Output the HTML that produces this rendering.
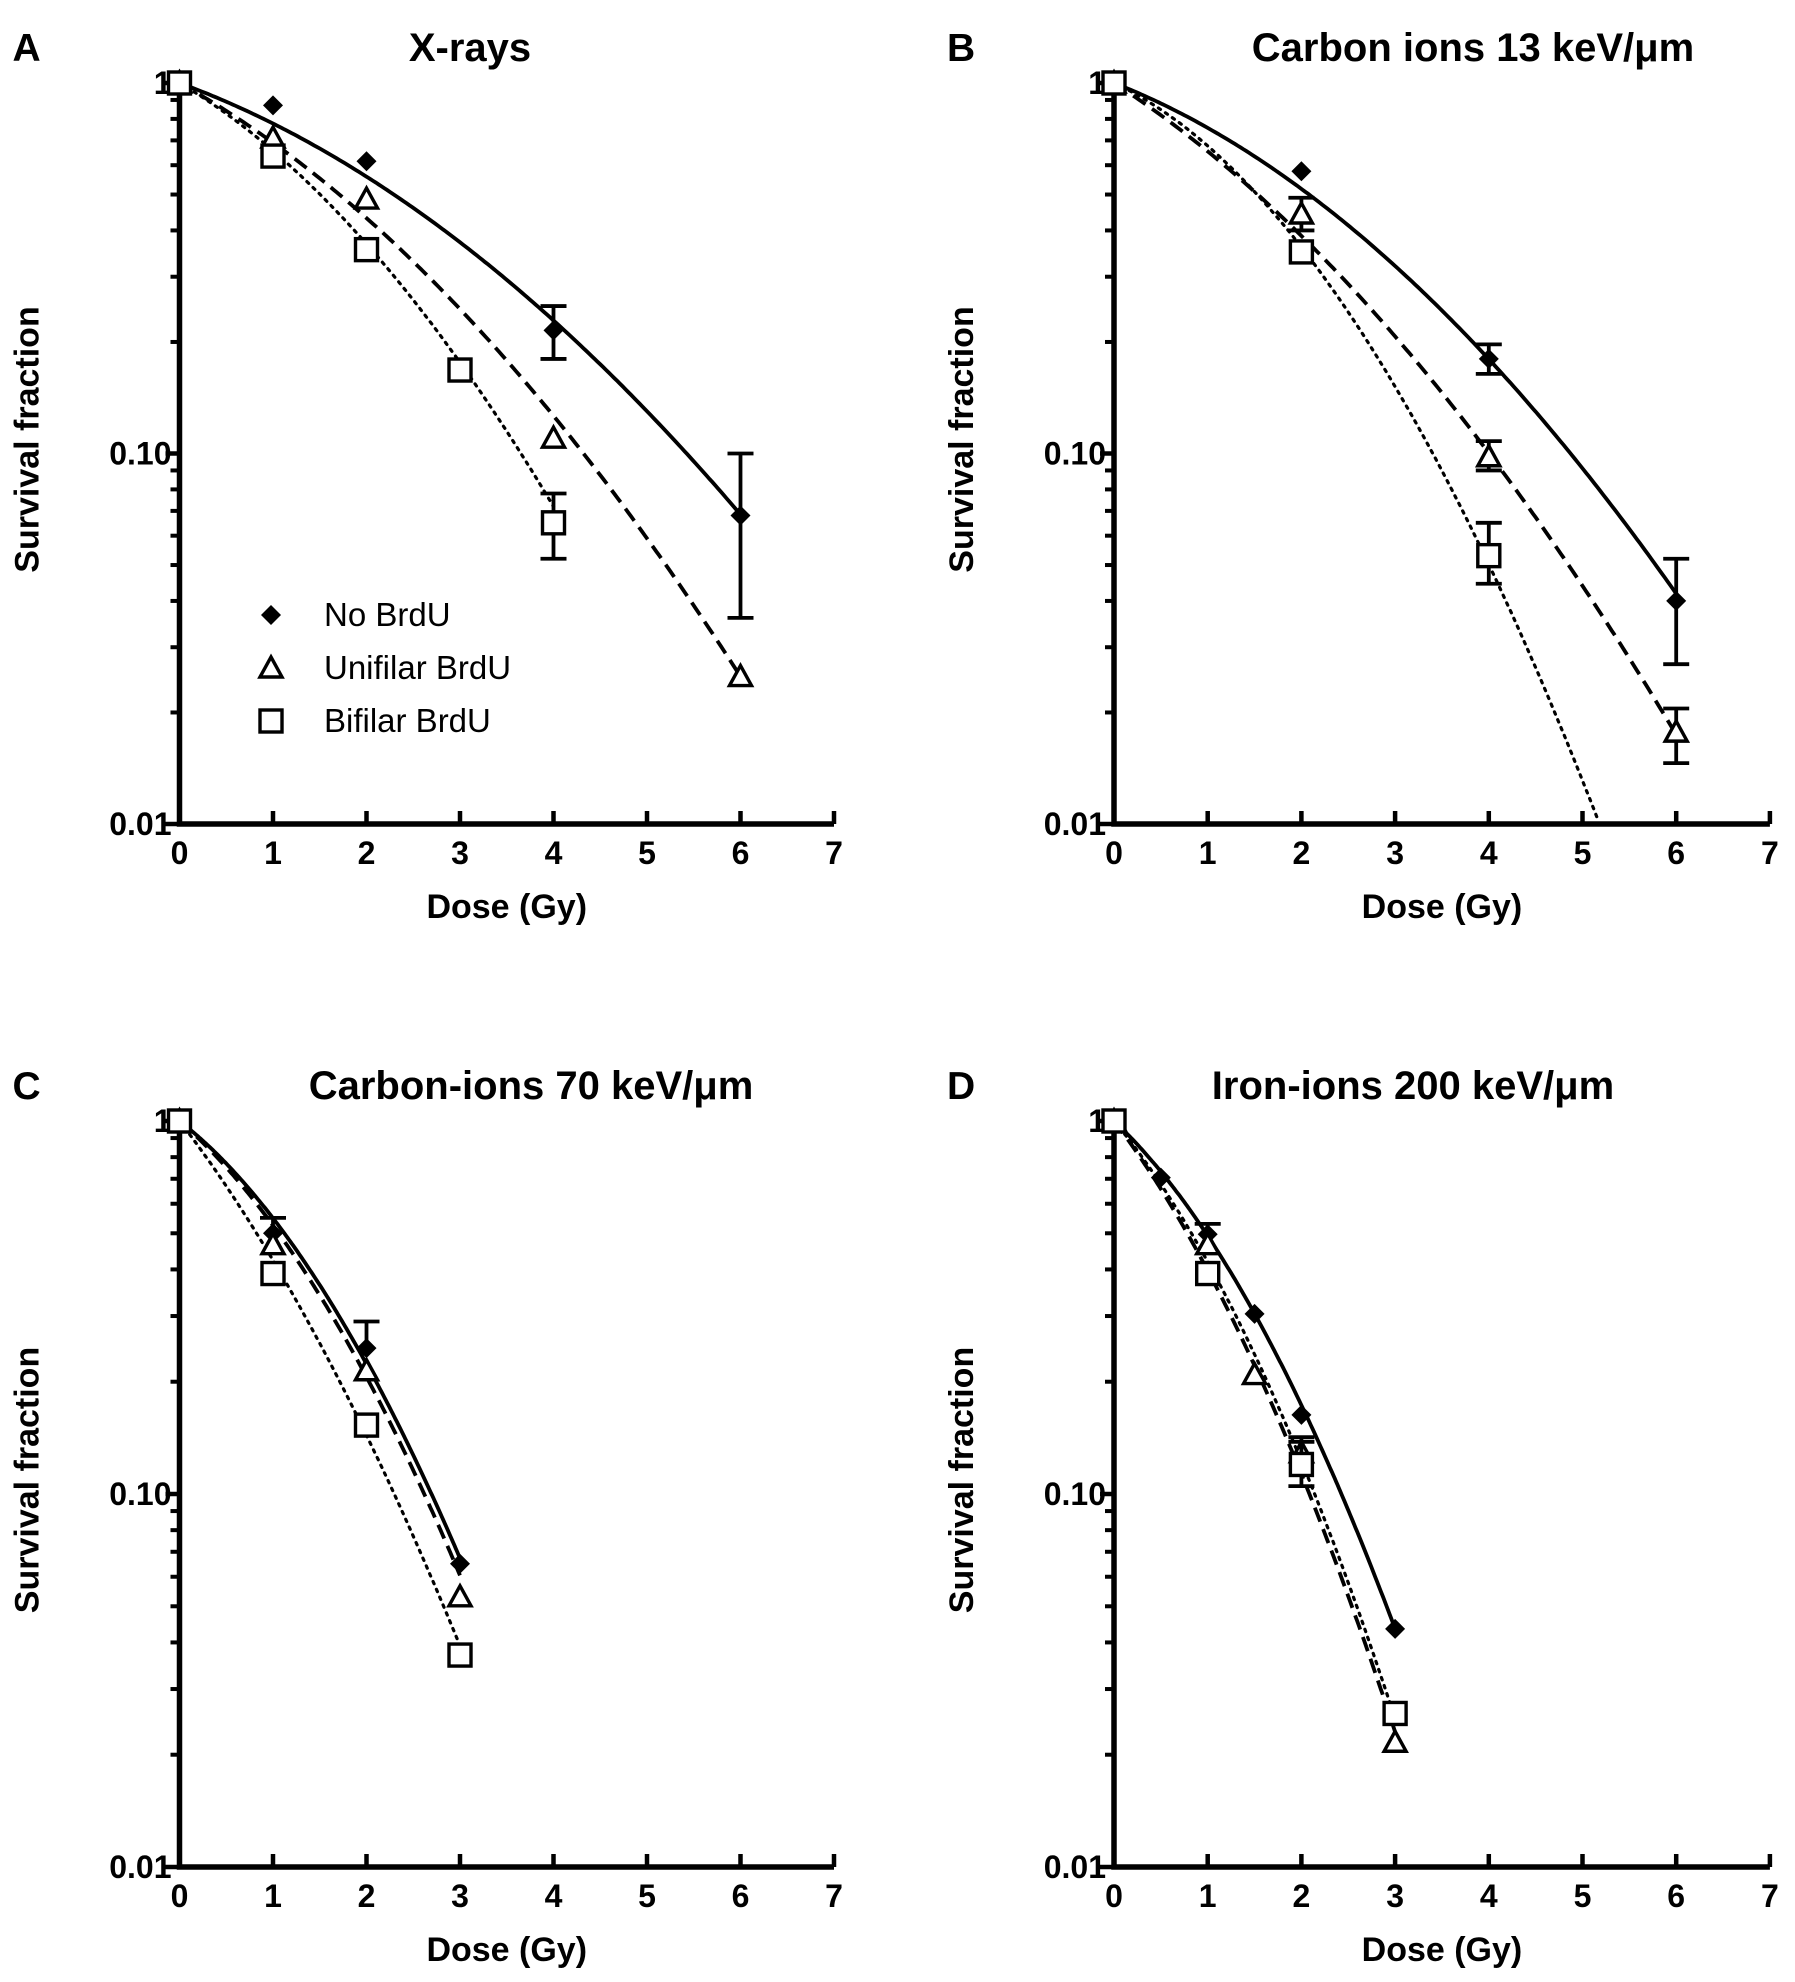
<!DOCTYPE html>
<html><head><meta charset="utf-8"><style>
html,body{margin:0;padding:0;background:#fff;}
svg{display:block;font-family:"Liberation Sans",Arial,sans-serif;}
</style></head><body>
<svg id="fig" width="1795" height="1982" viewBox="0 0 1795 1982" xmlns="http://www.w3.org/2000/svg"></svg>
<script>
// ---- data ----
const panelTitles = ["X-rays", "Carbon ions 13 keV/\u03bcm", "Carbon-ions 70 keV/\u03bcm", "Iron-ions 200 keV/\u03bcm"];
const panelLetters = ["A", "B", "C", "D"];
const seriesNames = ["No BrdU", "Unifilar BrdU", "Bifilar BrdU"];
const xTicks = [0, 1, 2, 3, 4, 5, 6, 7];
const yTickValues = [1, 0.1, 0.01];
const yTickLabels = ["1", "0.10", "0.01"];

// Panel A
const aNoDose = [0, 1, 2, 4, 6];
const aNoSF = [1, 0.87, 0.615, 0.215, 0.068];
const aNoErrLo = [null, null, null, 0.18, 0.036];
const aNoErrHi = [null, null, null, 0.25, 0.10];
const aUniDose = [0, 1, 2, 4, 6];
const aUniSF = [1, 0.71, 0.486, 0.11, 0.025];
const aBiDose = [0, 1, 2, 3, 4];
const aBiSF = [1, 0.635, 0.355, 0.168, 0.065];
const aBiErrLo = [null, null, null, null, 0.052];
const aBiErrHi = [null, null, null, null, 0.078];
// Panel B
const bNoDose = [0, 2, 4, 6];
const bNoSF = [1, 0.578, 0.18, 0.040];
const bNoErrLo = [null, null, 0.164, 0.027];
const bNoErrHi = [null, null, 0.197, 0.052];
const bUniDose = [0, 2, 4, 6];
const bUniSF = [1, 0.443, 0.098, 0.0177];
const bUniErrLo = [null, 0.40, 0.09, 0.0146];
const bUniErrHi = [null, 0.49, 0.108, 0.0205];
const bBiDose = [0, 2, 4];
const bBiSF = [1, 0.35, 0.053];
const bBiErrLo = [null, null, 0.0445];
const bBiErrHi = [null, null, 0.065];
// Panel C
const cNoDose = [0, 1, 2, 3];
const cNoSF = [1, 0.50, 0.246, 0.065];
const cNoErrHi = [null, 0.55, 0.29, null];
const cUniDose = [0, 1, 2, 3];
const cUniSF = [1, 0.466, 0.214, 0.053];
const cBiDose = [0, 1, 2, 3];
const cBiSF = [1, 0.39, 0.153, 0.037];
// Panel D
const dNoDose = [0, 0.5, 1, 1.5, 2, 3];
const dNoSF = [1, 0.705, 0.497, 0.304, 0.163, 0.0435];
const dNoErrHi = [null, null, 0.53, null, null, null];
const dUniDose = [0, 1, 1.5, 2, 3];
const dUniSF = [1, 0.466, 0.209, 0.129, 0.0216];
const dUniErrHi = [null, null, null, 0.142, null];
const dBiDose = [0, 1, 2, 3];
const dBiSF = [1, 0.39, 0.12, 0.0258];
const dBiErrLo = [null, null, 0.105, null];
const dBiErrHi = [null, null, 0.138, null];

// LQ fit parameters (alpha, beta) per panel: [No, Uni, Bi]
const fitAlpha = [[0.213, 0.322, 0.342], [0.229, 0.375, 0.272], [0.45, 0.5, 0.75], [0.541, 0.756, 0.69]];
const fitBeta = [[0.039, 0.0488, 0.079], [0.05, 0.05, 0.119], [0.15, 0.145, 0.11], [0.168, 0.167, 0.18]];
const fitEnd = [[6, 6, 4], [6, 6, 6], [3, 3, 3], [3, 3, 3]];

const panelSeries = [
  [{d:aNoDose,s:aNoSF,lo:aNoErrLo,hi:aNoErrHi},{d:aUniDose,s:aUniSF},{d:aBiDose,s:aBiSF,lo:aBiErrLo,hi:aBiErrHi}],
  [{d:bNoDose,s:bNoSF,lo:bNoErrLo,hi:bNoErrHi},{d:bUniDose,s:bUniSF,lo:bUniErrLo,hi:bUniErrHi},{d:bBiDose,s:bBiSF,lo:bBiErrLo,hi:bBiErrHi}],
  [{d:cNoDose,s:cNoSF,hi:cNoErrHi},{d:cUniDose,s:cUniSF},{d:cBiDose,s:cBiSF}],
  [{d:dNoDose,s:dNoSF,hi:dNoErrHi},{d:dUniDose,s:dUniSF,hi:dUniErrHi},{d:dBiDose,s:dBiSF,lo:dBiErrLo,hi:dBiErrHi}]
];

// ---- layout ----
const layouts = [
  {x0:179.5, per:93.5, y1:83, dec:370.5},
  {x0:1114, per:93.7, y1:83, dec:370.5},
  {x0:179.5, per:93.5, y1:1121, dec:373},
  {x0:1114, per:93.7, y1:1121, dec:373}
];
const NS = "http://www.w3.org/2000/svg";
const svg = document.getElementById("fig");
function mk(tag, attrs, parent, text) {
  const e = document.createElementNS(NS, tag);
  for (const k in attrs) e.setAttribute(k, attrs[k]);
  if (text !== undefined) e.textContent = text;
  (parent || svg).appendChild(e);
  return e;
}
const dashes = ["", "15 8", "2.5 6"];

function marker(g, type, x, y) {
  let e;
  if (type === 0) {
    e = mk("polygon", {points:`${x},${y-10} ${x+10},${y} ${x},${y+10} ${x-10},${y}`, fill:"#000"}, g);
  } else if (type === 1) {
    e = mk("polygon", {points:`${x},${y-11} ${x+11},${y+9} ${x-11},${y+9}`, fill:"#fff", stroke:"#000", "stroke-width":3.4}, g);
  } else {
    e = mk("rect", {x:x-11, y:y-11, width:22, height:22, fill:"#fff", stroke:"#000", "stroke-width":3.4}, g);
  }
  return e;
}

layouts.forEach((L, p) => {
  const X = d => L.x0 + d * L.per;
  const Y = v => L.y1 - Math.log10(v) * L.dec;
  const yBot = Y(0.01);
  const g = mk("g", {});
  
  

  const let_ = mk("text", {x:L.x0 - 167, y:L.y1 - 22, "font-size":39, "font-weight":"bold"}, g, panelLetters[p]);
  
  
  const t = mk("text", {x:p % 2 === 0 ? (p === 0 ? 470 : 531) : (p === 1 ? 1473 : 1413), y:L.y1 - 22, "font-size":40, "font-weight":"bold", "text-anchor":"middle"}, g, panelTitles[p]);
  
  

  // axes
  const ax = mk("path", {d:`M${L.x0},${L.y1-6} V${yBot} H${X(7)}`, fill:"none", stroke:"#000", "stroke-width":5.5}, g);
  
  
  xTicks.forEach(v => {
    mk("line", {x1:X(v), x2:X(v), y1:yBot, y2:yBot - 13, stroke:"#000", "stroke-width":4.5}, g);
    const tl = mk("text", {x:X(v), y:yBot + 40, "font-size":32, "font-weight":"bold", "text-anchor":"middle"}, g, String(v));
    
    
  });
  for (let dcd = 0; dcd < 2; dcd++) {
    for (let m = 2; m <= 9; m++) {
      const v = Math.pow(10, -2 + dcd) * m;
      mk("line", {x1:L.x0, x2:L.x0 - 9, y1:Y(v), y2:Y(v), stroke:"#000", "stroke-width":4}, g);
    }
  }
  yTickValues.forEach((v, i) => {
    mk("line", {x1:L.x0, x2:L.x0 - 14, y1:Y(v), y2:Y(v), stroke:"#000", "stroke-width":4.5}, g);
    const tl = mk("text", {x:L.x0 - 8, y:Y(v) + 11, "font-size":32, "font-weight":"bold", "text-anchor":"end"}, g, yTickLabels[i]);
    
    
  });
  const xl = mk("text", {x:X(3.5), y:yBot + 94, "font-size":34, "font-weight":"bold", "text-anchor":"middle"}, g, "Dose (Gy)");
  
  
  const ymid = Y(0.1);
  const yl = mk("text", {x:0, y:0, "font-size":34, "font-weight":"bold", "text-anchor":"middle", transform:`translate(${L.x0 - 141},${ymid - 14}) rotate(-90)`}, g, "Survival fraction");
  
  

  // fit curves
  for (let s = 0; s < 3; s++) {
    const a = fitAlpha[p][s], b = fitBeta[p][s];
    const pts = [];
    for (let i = 0; i <= 200; i++) {
      const d = fitEnd[p][s] * i / 200;
      const sf = Math.exp(-a * d - b * d * d);
      if (sf < 0.01) break;
      pts.push(X(d).toFixed(1) + "," + Y(sf).toFixed(1));
    }
    const c = mk("polyline", {points:pts.join(" "), fill:"none", stroke:"#000", "stroke-width":s === 2 ? 3.2 : 3.8, "stroke-dasharray":dashes[s], "stroke-linecap":s === 2 ? "round" : "butt"}, g);
    
    
  }
  // points & error bars
  panelSeries[p].forEach((ser, s) => {
    ser.d.forEach((d, i) => {
      const x = X(d), y = Y(ser.s[i]);
      const lo = ser.lo ? ser.lo[i] : null, hi = ser.hi ? ser.hi[i] : null;
      if (lo !== null || hi !== null) {
        const top = hi !== null ? Y(hi) : y, bot = lo !== null ? Y(lo) : y;
        mk("line", {x1:x, x2:x, y1:top, y2:bot, stroke:"#000", "stroke-width":3.8}, g);
        if (hi !== null) mk("line", {x1:x - 13, x2:x + 13, y1:top, y2:top, stroke:"#000", "stroke-width":3.8}, g);
        if (lo !== null) mk("line", {x1:x - 13, x2:x + 13, y1:bot, y2:bot, stroke:"#000", "stroke-width":3.8}, g);
      }
      const m = marker(g, s, x, y);
      
      
    });
  });
});

// legend (panel A)
const lg = mk("g", {});


const legY = [615, 668, 721];
seriesNames.forEach((n, i) => {
  const m = marker(lg, i, 271, legY[i]);
  
  
  const t = mk("text", {x:324, y:legY[i] + 11, "font-size":33}, lg, n);
  
  
});
</script>
</body></html>
